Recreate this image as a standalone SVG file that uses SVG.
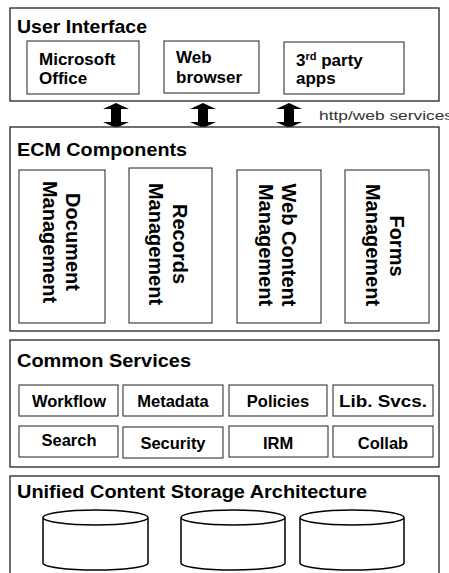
<svg xmlns="http://www.w3.org/2000/svg" width="449" height="573" viewBox="0 0 449 573">
<style>
.outer{fill:#fff;stroke:#222;stroke-width:1.3}
.inner{fill:#fff;stroke:#333;stroke-width:1.1}
.title{font-family:"Liberation Sans",Arial,sans-serif;font-weight:bold;font-size:19px;fill:#000}
.lbl{font-family:"Liberation Sans",Arial,sans-serif;font-weight:bold;font-size:17px;fill:#000}
.vlbl{font-family:"Liberation Sans",Arial,sans-serif;font-weight:bold;font-size:20px;fill:#000;text-anchor:middle}
.svc{font-family:"Liberation Sans",Arial,sans-serif;font-weight:bold;font-size:16.5px;fill:#000;text-anchor:middle}
.note{font-family:"Liberation Sans",Arial,sans-serif;font-size:13px;fill:#333}
.arrow{fill:#000}
.cyl{fill:#fff;stroke:#000;stroke-width:1.5}
</style>
<rect width="449" height="573" fill="#fff"/>

<g id="user-interface">
<rect class="outer" x="10" y="8" width="429" height="93"/>
<text class="title" x="17" y="33" textLength="130" lengthAdjust="spacingAndGlyphs">User Interface</text>
</g>
<g id="microsoft-office">
<rect class="inner" x="27" y="41" width="112" height="53"/>
<text class="lbl" x="39" y="65">Microsoft</text>
<text class="lbl" x="39" y="84">Office</text>
</g>
<g id="web-browser">
<rect class="inner" x="164" y="41" width="95" height="52"/>
<text class="lbl" x="176" y="63">Web</text>
<text class="lbl" x="176" y="83">browser</text>
</g>
<g id="third-party-apps">
<rect class="inner" x="284" y="42" width="120" height="52"/>
<text class="lbl" x="296" y="66">3<tspan font-size="11" dy="-6">rd</tspan><tspan dy="6"> party</tspan></text>
<text class="lbl" x="296" y="84">apps</text>
</g>

<g id="connectors">
<path class="arrow" d="M116,103 L129,109 L121,109 L121,122 L129,122 L116,128 L103,122 L111,122 L111,109 L103,109 Z"/>
<path class="arrow" d="M203,103 L216,109 L208,109 L208,122 L216,122 L203,128 L190,122 L198,122 L198,109 L190,109 Z"/>
<path class="arrow" d="M289,103 L302,109 L294,109 L294,122 L302,122 L289,128 L276,122 L284,122 L284,109 L276,109 Z"/>
<text class="note" x="319" y="120" textLength="134" lengthAdjust="spacingAndGlyphs">http/web services</text>
</g>

<g id="ecm-components">
<rect class="outer" x="10" y="127" width="429" height="204"/>
<text class="title" x="17" y="156" textLength="170" lengthAdjust="spacingAndGlyphs">ECM Components</text>
</g>
<g id="document-management">
<rect class="inner" x="19" y="170" width="86" height="153"/>
<text class="vlbl" transform="translate(66,242) rotate(90)">Document</text>
<text class="vlbl" transform="translate(43,242) rotate(90)">Management</text>
</g>
<g id="records-management">
<rect class="inner" x="129" y="168" width="83" height="155"/>
<text class="vlbl" transform="translate(173,244) rotate(90)">Records</text>
<text class="vlbl" transform="translate(149,244) rotate(90)">Management</text>
</g>
<g id="web-content-management">
<rect class="inner" x="237" y="170" width="84" height="153"/>
<text class="vlbl" transform="translate(282,245) rotate(90)">Web Content</text>
<text class="vlbl" transform="translate(259,245) rotate(90)">Management</text>
</g>
<g id="forms-management">
<rect class="inner" x="345" y="170" width="84" height="153"/>
<text class="vlbl" transform="translate(390,246) rotate(90)">Forms</text>
<text class="vlbl" transform="translate(366,245) rotate(90)">Management</text>
</g>

<g id="common-services">
<rect class="outer" x="10" y="340" width="429" height="127"/>
<text class="title" x="17" y="367" textLength="174" lengthAdjust="spacingAndGlyphs">Common Services</text>
</g>
<g id="workflow"><rect class="inner" x="19" y="385" width="99" height="31"/><text class="svc" x="69" y="407">Workflow</text></g>
<g id="metadata"><rect class="inner" x="123" y="385" width="100" height="31"/><text class="svc" x="173" y="407">Metadata</text></g>
<g id="policies"><rect class="inner" x="229" y="385" width="98" height="31"/><text class="svc" x="278" y="407">Policies</text></g>
<g id="lib-svcs"><rect class="inner" x="333" y="385" width="100" height="31"/><text class="svc" x="383" y="407" textLength="88" lengthAdjust="spacingAndGlyphs">Lib. Svcs.</text></g>
<g id="search"><rect class="inner" x="19" y="426" width="99" height="31"/><text class="svc" x="69" y="446">Search</text></g>
<g id="security"><rect class="inner" x="123" y="427" width="100" height="31"/><text class="svc" x="173" y="449">Security</text></g>
<g id="irm"><rect class="inner" x="229" y="426" width="99" height="31"/><text class="svc" x="278" y="449">IRM</text></g>
<g id="collab"><rect class="inner" x="333" y="426" width="100" height="31"/><text class="svc" x="383" y="449">Collab</text></g>

<g id="unified-storage">
<rect class="outer" x="10" y="476" width="429" height="110"/>
<text class="title" x="17" y="498" textLength="350" lengthAdjust="spacingAndGlyphs">Unified Content Storage Architecture</text>
</g>
<g id="store-1">
<path class="cyl" d="M43,517.5 L43,563 A52.5,7 0 0 0 148,563 L148,517.5 A52.5,7.5 0 0 0 43,517.5 A52.5,7.5 0 0 0 148,517.5"/>
</g>
<g id="store-2">
<path class="cyl" d="M181,517.5 L181,563 A52,7 0 0 0 285,563 L285,517.5 A52,7.5 0 0 0 181,517.5 A52,7.5 0 0 0 285,517.5"/>
</g>
<g id="store-3">
<path class="cyl" d="M300,517.5 L300,563 A52,7 0 0 0 404,563 L404,517.5 A52,7.5 0 0 0 300,517.5 A52,7.5 0 0 0 404,517.5"/>
</g>
</svg>
